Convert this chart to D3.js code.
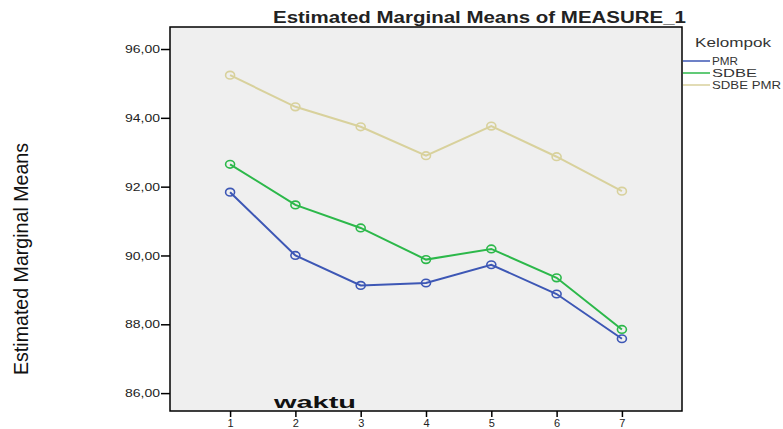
<!DOCTYPE html>
<html><head><meta charset="utf-8">
<script src="https://cdn.jsdelivr.net/npm/d3@7"></script>
<style>body{margin:0;background:#fff}svg{display:block}text{font-family:"Liberation Sans",Arial,sans-serif}</style>
</head><body>
<script>
const categories = ["1","2","3","4","5","6","7"];
const seriesNames = ["PMR","SDBE","SDBE PMR"];
const pmr      = [91.84, 90.00, 89.13, 89.20, 89.73, 88.88, 87.58];
const sdbe     = [92.65, 91.47, 90.80, 89.88, 90.19, 89.35, 87.85];
const sdbePmr  = [95.24, 94.32, 93.74, 92.90, 93.76, 92.87, 91.87];
const yTicks   = [86, 88, 90, 92, 94, 96];
const colors   = ["#3d57b5", "#2cb84a", "#d8d19c"];
const series = [pmr, sdbe, sdbePmr].map((v,i)=>({name:seriesNames[i], values:v, color:colors[i]}));

const W=783,H=429;
const L=170,R=682,T=27,B=411;
const svg=d3.select("body").append("svg").attr("width",W).attr("height",H);

const x=d3.scalePoint().domain(categories).range([L,R]).padding(0.92);
const y=d3.scaleLinear().domain([85.48,96.64]).range([B,T]);

svg.append("rect").attr("x",L).attr("y",T).attr("width",R-L).attr("height",B-T)
  .attr("fill","#efefef").attr("stroke","#000").attr("stroke-width",1.5);

const fmt=d=>d3.format(".2f")(d).replace(".",",");
const ya=svg.append("g").attr("transform",`translate(${L},0)`)
  .call(d3.axisLeft(y).tickValues(yTicks).tickFormat(fmt).tickSize(9).tickPadding(1));
ya.select(".domain").remove();
ya.selectAll("line").attr("stroke","#000").attr("stroke-width",1.5);
ya.selectAll("text").attr("font-size",11).attr("fill","#222")
  .attr("textLength",35).attr("lengthAdjust","spacingAndGlyphs");

const xa=svg.append("g").attr("transform",`translate(0,${B})`)
  .call(d3.axisBottom(x).tickSize(6).tickPadding(2));
xa.select(".domain").remove();
xa.selectAll("line").attr("stroke","#000").attr("stroke-width",1.5);
xa.selectAll("text").attr("font-size",11).attr("fill","#222");

const line=d3.line().x((d,i)=>x(categories[i])).y(d=>y(d));
series.forEach(s=>{
  svg.append("path").attr("d",line(s.values)).attr("fill","none")
    .attr("stroke",s.color).attr("stroke-width",2);
  svg.selectAll(null).data(s.values).enter().append("ellipse")
    .attr("cx",(d,i)=>x(categories[i])).attr("cy",d=>y(d))
    .attr("rx",4.5).attr("ry",3.8).attr("fill","none")
    .attr("stroke",s.color).attr("stroke-width",1.6);
});

svg.append("text").attr("x",479.5).attr("y",23).attr("text-anchor","middle")
  .attr("font-size",16).attr("font-weight","bold").attr("fill","#222")
  .attr("textLength",413).attr("lengthAdjust","spacingAndGlyphs")
  .text("Estimated Marginal Means of MEASURE_1");

svg.append("text").attr("transform","translate(28,259) rotate(-90)")
  .attr("text-anchor","middle").attr("font-size",21).attr("fill","#111")
  .attr("font-family","'Liberation Sans Narrow','Arial Narrow',sans-serif")
  .attr("textLength",232).attr("lengthAdjust","spacingAndGlyphs")
  .text("Estimated Marginal Means");

svg.append("text").attr("x",274).attr("y",408).attr("font-size",16)
  .attr("font-weight","900").attr("fill","#111")
  .attr("textLength",82).attr("lengthAdjust","spacingAndGlyphs").text("waktu");

svg.append("text").attr("x",695).attr("y",47).attr("font-size",12.5).attr("fill","#333")
  .attr("textLength",76).attr("lengthAdjust","spacingAndGlyphs").text("Kelompok");
const legW=[26,45,69];
series.forEach((s,i)=>{
  const yy=61+i*12;
  svg.append("line").attr("x1",683).attr("x2",710).attr("y1",yy).attr("y2",yy)
    .attr("stroke",s.color).attr("stroke-width",1.5);
  svg.append("text").attr("x",712).attr("y",yy+4).attr("font-size",11)
    .attr("fill","#333").attr("textLength",legW[i]).attr("lengthAdjust","spacingAndGlyphs").text(s.name);
});
</script>
</body></html>
